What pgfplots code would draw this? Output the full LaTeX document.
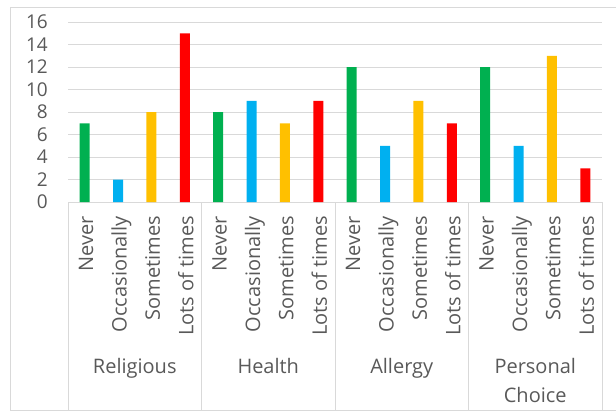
\documentclass[border=0pt]{standalone}
\usepackage{fontspec}
\setmainfont{Open Sans}
\usepackage{pgfplots}
\pgfplotsset{compat=1.18}

\definecolor{txt}{HTML}{595959}
\definecolor{gridc}{HTML}{D9D9D9}
\definecolor{cNever}{HTML}{00B050}
\definecolor{cOcc}{HTML}{00B0F0}
\definecolor{cSome}{HTML}{FFC000}
\definecolor{cLots}{HTML}{FF0000}

\newcommand\lbl{\fontsize{19bp}{23bp}\selectfont}
\newcommand\cat{\fontsize{20bp}{24bp}\selectfont}

\begin{document}
\begin{tikzpicture}
% page frame (right edge is cut off)
\useasboundingbox (-68bp,-209bp) rectangle (548bp,202bp);
\draw[gridc, line width=1bp] (549bp,194bp) -- (-57bp,194bp) -- (-57bp,-208bp) -- (549bp,-208bp);

\begin{axis}[
  at={(0,0)}, anchor=south west,
  scale only axis,
  width=534bp, height=180bp,
  xmin=-0.5, xmax=15.5,
  ymin=0, ymax=16,
  ytick={0,2,...,16},
  xtick={0,...,15},
  xticklabels={Never,Occasionally,Sometimes,Lots of times,
               Never,Occasionally,Sometimes,Lots of times,
               Never,Occasionally,Sometimes,Lots of times,
               Never,Occasionally,Sometimes,Lots of times},
  axis line style={draw=none},
  major tick length=0pt,
  ymajorgrids,
  grid style={gridc, line width=1bp},
  tick label style={text=txt, inner sep=0pt},
  /pgf/number format/assume math mode=true,
  yticklabel shift=20bp,
  yticklabel style={anchor=east, font=\lbl},
  xticklabel shift=14bp,
  xticklabel style={font=\cat, rotate=90, anchor=east, text height=17bp, text depth=0pt},
  clip=false,
]
\addplot[ybar, bar width=10bp, bar shift=0pt, fill=cNever, draw=none]
  coordinates {(0,7) (4,8) (8,12) (12,12)};
\addplot[ybar, bar width=10bp, bar shift=0pt, fill=cOcc, draw=none]
  coordinates {(1,2) (5,9) (9,5) (13,5)};
\addplot[ybar, bar width=10bp, bar shift=0pt, fill=cSome, draw=none]
  coordinates {(2,8) (6,7) (10,9) (14,13)};
\addplot[ybar, bar width=10bp, bar shift=0pt, fill=cLots, draw=none]
  coordinates {(3,15) (7,9) (11,7) (15,3)};

% category table dividers
\pgfplotsinvokeforeach{-0.5,3.5,7.5,11.5,15.5}{
  \draw[gridc, line width=1bp] (axis cs:#1,0) -- ([yshift=-208bp]axis cs:#1,0);
}

% group names
\node[font=\cat, text=txt, anchor=base] at ([yshift=-171bp]axis cs:1.5,0) {Religious};
\node[font=\cat, text=txt, anchor=base] at ([yshift=-171bp]axis cs:5.5,0) {Health};
\node[font=\cat, text=txt, anchor=base] at ([yshift=-171bp]axis cs:9.5,0) {Allergy};
\node[font=\cat, text=txt, anchor=base] at ([yshift=-171bp]axis cs:13.5,0) {Personal};
\node[font=\cat, text=txt, anchor=base] at ([yshift=-200bp]axis cs:13.5,0) {Choice};
\end{axis}
\end{tikzpicture}
\end{document}
